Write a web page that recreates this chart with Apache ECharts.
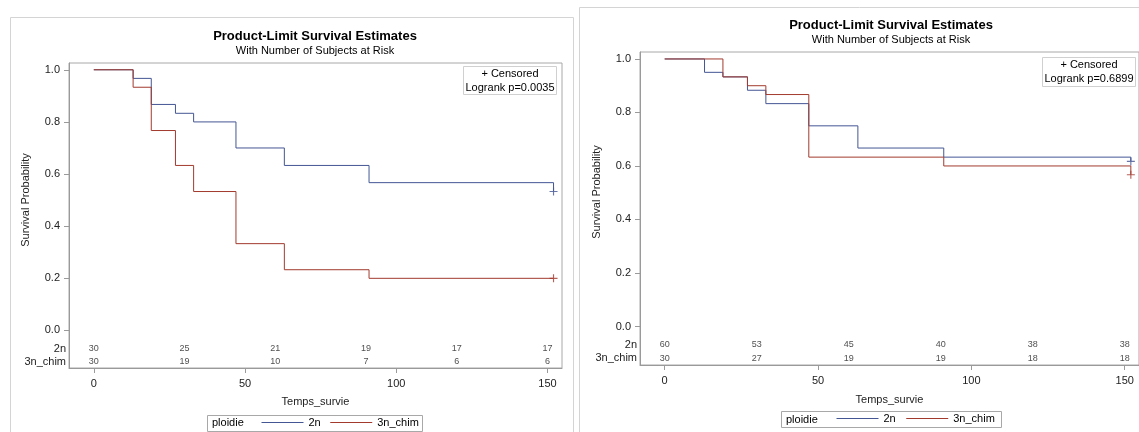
<!DOCTYPE html>
<html>
<head>
<meta charset="utf-8">
<script src="https://cdn.jsdelivr.net/npm/echarts@6/dist/echarts.min.js"></script>
<style>
  html, body { margin: 0; padding: 0; background: #fff; }
  #main { width: 1139px; height: 432px; }
</style>
</head>
<body>
<div id="main"></div>
<script>
// left panel, Logrank p=0.0035
const timesA2n = [0, 13, 19, 27, 33, 47, 63, 91, 152];
const survA2n  = [1, 0.967, 0.867, 0.833, 0.8, 0.7, 0.633, 0.567, 0.533];
const timesA3n = [0, 13, 19, 27, 33, 47, 63, 91, 152];
const survA3n  = [1, 0.933, 0.767, 0.633, 0.533, 0.333, 0.233, 0.2, 0.2];
const censTimeA = [152, 152];
const censSurvA = [0.533, 0.2];

// right panel, Logrank p=0.6899
const timesB2n = [0, 13, 19, 27, 33, 47, 63, 91, 152];
const survB2n  = [1, 0.95, 0.933, 0.883, 0.833, 0.75, 0.667, 0.633, 0.617];
const timesB3n = [0, 19, 27, 33, 47, 91, 152];
const survB3n  = [1, 0.933, 0.9, 0.867, 0.633, 0.6, 0.567];
const censTimeB = [152, 152];
const censSurvB = [0.617, 0.567];

// number at risk
const riskTimes = [0, 30, 60, 90, 120, 150];
const riskA2n = [30, 25, 21, 19, 17, 17];
const riskA3n = [30, 19, 10, 7, 6, 6];
const riskB2n = [60, 53, 45, 40, 38, 38];
const riskB3n = [30, 27, 19, 19, 18, 18];

const groups = ['2n', '3n_chim'];
const xTicks = [0, 50, 100, 150];
const yTicks = [0, 0.2, 0.4, 0.6, 0.8, 1.0];

const BLUE = '#445694';
const RED = '#A23A2E';
const FONT = '"Liberation Sans", Arial, sans-serif';
const AXIS = '#9a9a9a';
const PLUS = 'path://M3,0H4V3H7V4H4V7H3V4H0V3H3Z';

const zip = (t, s) => t.map((v, i) => [v, s[i]]);

const chart = echarts.init(document.getElementById('main'));

const grids = [], xAxes = [], yAxes = [], series = [];

function addPanel(p) {
  const g = grids.length;
  grids.push({ left: p.left, top: p.top, width: p.width, height: p.height,
    show: true, borderColor: '#a8a8a8', borderWidth: 1, backgroundColor: 'transparent' });
  grids.push({ left: p.left, top: p.top + p.height - p.riskH, width: p.width, height: p.riskH });

  xAxes.push({
    gridIndex: g, type: 'value', min: p.xmin, max: p.xmax,
    name: 'Temps_survie', nameLocation: 'middle', nameGap: p.xNameGap,
    nameTextStyle: { fontFamily: FONT, fontSize: 11, color: '#222' },
    axisLine: { onZero: false, lineStyle: { color: AXIS } },
    axisTick: { customValues: xTicks, length: 5, lineStyle: { color: AXIS } },
    axisLabel: { customValues: xTicks, margin: 10, fontFamily: FONT, fontSize: 11, color: '#222' },
    splitLine: { show: false }
  });
  xAxes.push({ gridIndex: g + 1, type: 'value', min: p.xmin, max: p.xmax, show: false });

  yAxes.push({
    gridIndex: g, type: 'value', min: -0.144, max: 1.026,
    name: 'Survival Probability', nameLocation: 'middle', nameGap: 38,
    nameTextStyle: { fontFamily: FONT, fontSize: 11, color: '#222', padding: [0, 0, 0, p.namePad] },
    axisLine: { show: true, onZero: false, lineStyle: { color: AXIS } },
    axisTick: { customValues: yTicks, length: 5, lineStyle: { color: AXIS } },
    axisLabel: { customValues: yTicks, margin: 9, fontFamily: FONT, fontSize: 11, color: '#222',
      formatter: v => v.toFixed(1) },
    splitLine: { show: false }
  });
  yAxes.push({
    gridIndex: g + 1, type: 'category', data: groups, inverse: true,
    axisLine: { show: false }, axisTick: { show: false },
    axisLabel: { interval: 0, margin: 3, fontFamily: FONT, fontSize: 11, color: '#222' }
  });

  const lines = [[p.t2n, p.s2n, '2n', BLUE], [p.t3n, p.s3n, '3n_chim', RED]];
  lines.forEach(([t, s, name, col], i) => {
    series.push({
      type: 'line', name: name, xAxisIndex: g, yAxisIndex: g, step: 'end',
      symbol: 'none', color: col, lineStyle: { width: 1, color: col }, data: zip(t, s)
    });
    series.push({
      type: 'scatter', name: 'cens_' + name, xAxisIndex: g, yAxisIndex: g,
      symbol: PLUS, symbolSize: 8, itemStyle: { color: col },
      data: [[p.censT[i], p.censS[i]]]
    });
  });

  [[p.risk2n, '2n'], [p.risk3n, '3n_chim']].forEach(([vals, grp]) => {
    series.push({
      type: 'scatter', name: 'risk_' + grp, xAxisIndex: g + 1, yAxisIndex: g + 1,
      symbolSize: 1, itemStyle: { color: 'rgba(0,0,0,0)' },
      label: { show: true, position: 'inside', formatter: q => q.value[2],
        fontFamily: FONT, fontSize: 9, color: '#222' },
      data: riskTimes.map((t, i) => [t, grp, vals[i]])
    });
  });
}

addPanel({ left: 69, top: 63, width: 493, height: 305, riskH: 25.5,
  xmin: -8.2, xmax: 154.8, xNameGap: 28, namePad: 31,
  t2n: timesA2n, s2n: survA2n, t3n: timesA3n, s3n: survA3n,
  censT: censTimeA, censS: censSurvA, risk2n: riskA2n, risk3n: riskA3n });

addPanel({ left: 640, top: 52, width: 506, height: 313, riskH: 27,
  xmin: -8.04, xmax: 154.66, xNameGap: 29, namePad: 33,
  t2n: timesB2n, s2n: survB2n, t3n: timesB3n, s3n: survB3n,
  censT: censTimeB, censS: censSurvB, risk2n: riskB2n, risk3n: riskB3n });

const titleStyle = { fontFamily: FONT, fontSize: 13, fontWeight: 'bold', color: '#000' };
const subStyle = { fontFamily: FONT, fontSize: 11, color: '#000' };

const legendBase = {
  data: groups, itemWidth: 42, itemHeight: 12, itemGap: 9, padding: 0,
  selectedMode: false, itemStyle: { opacity: 0 },
  lineStyle: { width: 1 },
  textStyle: { fontFamily: FONT, fontSize: 11, color: '#000' }
};

function txt(x, y, s, align) {
  return { type: 'text', x: x, y: y, silent: true,
    style: { text: s, font: '11px ' + FONT, fill: '#000', textAlign: align || 'center', textVerticalAlign: 'middle' } };
}
function box(x, y, w, h, stroke) {
  return { type: 'rect', silent: true, shape: { x: x, y: y, width: w, height: h },
    style: { fill: 'none', stroke: stroke, lineWidth: 1 } };
}

chart.setOption({
  animation: false,
  backgroundColor: '#fff',
  title: [
    { text: 'Product-Limit Survival Estimates', subtext: 'With Number of Subjects at Risk',
      left: 315, top: 30, textAlign: 'center', padding: 0, itemGap: 2,
      textStyle: titleStyle, subtextStyle: subStyle },
    { text: 'Product-Limit Survival Estimates', subtext: 'With Number of Subjects at Risk',
      left: 891, top: 19, textAlign: 'center', padding: 0, itemGap: 2,
      textStyle: titleStyle, subtextStyle: subStyle }
  ],
  legend: [
    Object.assign({}, legendBase, { left: 261, top: 417 }),
    Object.assign({}, legendBase, { left: 836, top: 413, itemGap: 10 })
  ],
  grid: grids,
  xAxis: xAxes,
  yAxis: yAxes,
  series: series,
  graphic: [
    box(10.5, 17.5, 563, 430, '#d4d4d4'),
    box(579.5, 7.5, 580, 440, '#d4d4d4'),
    box(463.5, 66.5, 93, 28, '#d0d0d0'),
    txt(510, 74, '+ Censored'),
    txt(510, 87.5, 'Logrank p=0.0035'),
    box(1042.5, 57.5, 93, 29, '#d0d0d0'),
    txt(1089, 65, '+ Censored'),
    txt(1089, 79, 'Logrank p=0.6899'),
    box(207.5, 415.5, 215, 16, '#a8a8a8'),
    txt(212, 423, 'ploidie', 'left'),
    box(781.5, 411.5, 220, 16, '#a8a8a8'),
    txt(786, 419.5, 'ploidie', 'left')
  ]
});
</script>
</body>
</html>
